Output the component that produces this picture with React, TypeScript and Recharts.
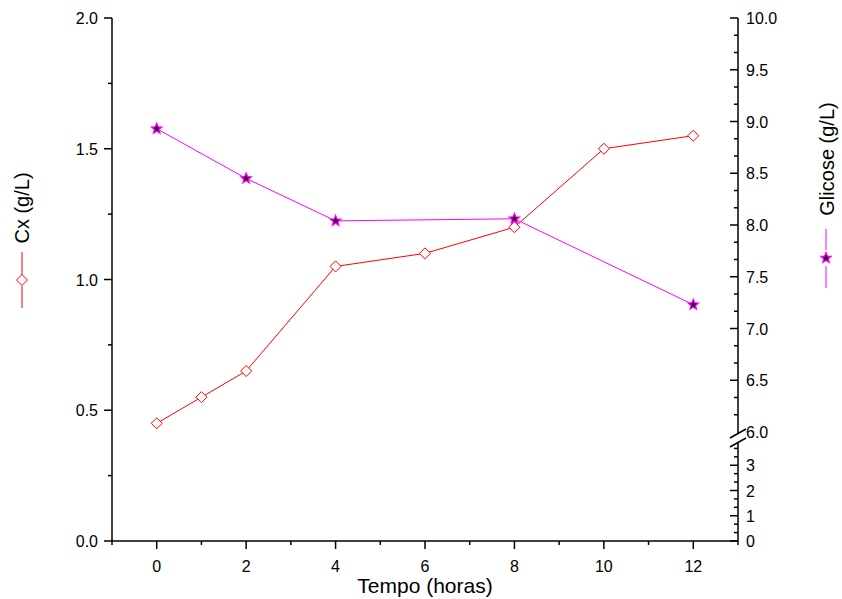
import React from 'react';
import { LineChart, Line, XAxis, YAxis } from 'recharts';

document.body.style.margin = '0';

// Cx (g/L) vs tempo
const cxTempo = [0, 1, 2, 4, 6, 8, 10, 12];
const cxValues = [0.45, 0.55, 0.65, 1.05, 1.1, 1.2, 1.5, 1.55];

// Glicose (g/L) vs tempo
const glicoseTempo = [0, 2, 4, 8, 12];
const glicoseValues = [8.93, 8.45, 8.04, 8.06, 7.23];

const xTicks = [-1, 0, 1, 2, 3, 4, 5, 6, 7, 8, 9, 10, 11, 12, 13];
const xLabels = [0, 2, 4, 6, 8, 10, 12];
const cxTicks = [0, 0.25, 0.5, 0.75, 1, 1.25, 1.5, 1.75, 2];
const glicoseLowTicks = [0, 1, 2, 3];
const glicoseHighTicks = [6, 6.5, 7, 7.5, 8, 8.5, 9, 9.5, 10];

// broken right axis: 0..4 on a compressed scale, 6..10 above the break
const LOW_STEP = 25.25;
const HIGH_BASE = 109;
const HIGH_STEP = 103.5;
const toAxis = (g: number) => (g <= 4 ? g * LOW_STEP : HIGH_BASE + (g - 6) * HIGH_STEP);

const cxData = cxTempo.map((t, i) => ({ t, cx: cxValues[i] }));
const glicoseData = glicoseTempo.map((t, i) => ({ t, g: toAxis(glicoseValues[i]) }));

const rightTicks: number[] = [];
for (let i = 0; i <= 11; i++) rightTicks.push(toAxis(i / 3));
for (let i = 0; i <= 24; i++) rightTicks.push(toAxis(6 + i / 6));

const FONT = '"Liberation Sans", Arial, sans-serif';
const near = (a: number, b: number) => Math.abs(a - b) < 1e-6;

const XTick = (props: any) => {
  const { x, y, payload } = props;
  const v = payload.value;
  const major = v % 2 === 0;
  return (
    <g>
      <line x1={x} x2={x} y1={y} y2={y + (major ? 8 : 4)} stroke="#000" strokeWidth={1.5} />
      {xLabels.includes(v) && (
        <text x={x} y={y + 31} textAnchor="middle" fontSize={16} fontFamily={FONT} fill="#000">
          {v}
        </text>
      )}
    </g>
  );
};

const LeftTick = (props: any) => {
  const { x, y, payload } = props;
  const v = payload.value;
  const major = near((v * 2) % 1, 0);
  return (
    <g>
      <line x1={x} x2={x - (major ? 8 : 4)} y1={y} y2={y} stroke="#000" strokeWidth={1.5} />
      {major && (
        <text x={x - 14} y={y + 6} textAnchor="end" fontSize={16} fontFamily={FONT} fill="#000">
          {v.toFixed(1)}
        </text>
      )}
    </g>
  );
};

const RightTick = (props: any) => {
  const { x, y, payload } = props;
  const a = payload.value;
  let label: string | null = null;
  let major = false;
  let isBreak = false;
  if (a < HIGH_BASE - 1) {
    const g = a / LOW_STEP;
    if (Math.abs(g - Math.round(g)) < 1e-4) {
      major = true;
      if (glicoseLowTicks.includes(Math.round(g))) label = String(Math.round(g));
    }
  } else {
    const g = 6 + (a - HIGH_BASE) / HIGH_STEP;
    const r2 = Math.round(g * 2) / 2;
    if (Math.abs(g - r2) < 1e-4 && glicoseHighTicks.includes(r2)) {
      major = true;
      label = r2.toFixed(1);
    }
    if (Math.abs(g - 6) < 1e-4) isBreak = true;
  }
  return (
    <g>
      {!isBreak && (
        <line x1={x} x2={x - (major ? 8 : 4)} y1={y} y2={y} stroke="#000" strokeWidth={1.5} />
      )}
      {isBreak && (
        <g>
          <polygon points={`${x - 8},${y + 6} ${x + 8},${y - 3} ${x + 8},${y + 6} ${x - 8},${y + 15}`} fill="#fff" />
          <line x1={x - 8} y1={y + 6} x2={x + 8} y2={y - 3} stroke="#000" strokeWidth={1.5} />
          <line x1={x - 8} y1={y + 15} x2={x + 8} y2={y + 6} stroke="#000" strokeWidth={1.5} />
        </g>
      )}
      {label && (
        <text x={x + 8} y={y + 6} textAnchor="start" fontSize={16} fontFamily={FONT} fill="#000">
          {label}
        </text>
      )}
    </g>
  );
};

const Diamond = (props: any) => {
  const { cx, cy } = props;
  if (cx == null || cy == null) return null;
  const s = 5.5;
  return (
    <polygon
      points={`${cx},${cy - s} ${cx + s},${cy} ${cx},${cy + s} ${cx - s},${cy}`}
      fill="#fff"
      stroke="#ff0000"
      strokeWidth={1}
    />
  );
};

const starPoints = (cx: number, cy: number, ro: number, ri: number) => {
  const pts: string[] = [];
  for (let i = 0; i < 10; i++) {
    const r = i % 2 === 0 ? ro : ri;
    const a = -Math.PI / 2 + (i * Math.PI) / 5;
    pts.push(`${cx + r * Math.cos(a)},${cy + r * Math.sin(a)}`);
  }
  return pts.join(' ');
};

const Star = (props: any) => {
  const { cx, cy } = props;
  if (cx == null || cy == null) return null;
  return <polygon points={starPoints(cx, cy, 5.5, 2.4)} fill="#330033" stroke="#ff00ff" strokeWidth={1.2} />;
};

const LeftLegend = () => (
  <g>
    <text
      transform="translate(29,208) rotate(-90)"
      textAnchor="middle"
      fontSize={20}
      fontFamily={FONT}
      fill="#000"
    >
      Cx (g/L)
    </text>
    <line x1={22} x2={22} y1={252} y2={275} stroke="#ff0000" />
    <Diamond cx={22} cy={280} />
    <line x1={22} x2={22} y1={286} y2={308} stroke="#ff0000" />
  </g>
);

const RightLegend = () => (
  <g>
    <text
      transform="translate(834,159) rotate(-90)"
      textAnchor="middle"
      fontSize={20}
      fontFamily={FONT}
      fill="#000"
    >
      Glicose (g/L)
    </text>
    <line x1={826} x2={826} y1={229} y2={250} stroke="#ff00ff" />
    <Star cx={826} cy={258} />
    <line x1={826} x2={826} y1={266} y2={288} stroke="#ff00ff" />
  </g>
);

export default function App() {
  return (
    <div style={{ width: 842, height: 599, background: '#fff' }}>
      <LineChart width={842} height={599} margin={{ top: 18, right: 0, bottom: 0, left: 0 }}>
        <XAxis
          dataKey="t"
          type="number"
          domain={[-1, 13]}
          ticks={xTicks}
          interval={0}
          height={58}
          tickSize={0}
          tickMargin={0}
          tick={<XTick />}
          stroke="#000"
          strokeWidth={1.5}
          allowDuplicatedCategory={false}
          label={{
            value: 'Tempo (horas)',
            position: 'insideBottom',
            offset: 6,
            fontSize: 21,
            fontFamily: FONT,
            fill: '#000',
          }}
        />
        <YAxis
          yAxisId="cx"
          orientation="left"
          domain={[0, 2]}
          ticks={cxTicks}
          interval={0}
          width={112}
          tickSize={0}
          tickMargin={0}
          tick={<LeftTick />}
          stroke="#000"
          strokeWidth={1.5}
          label={<LeftLegend />}
        />
        <YAxis
          yAxisId="g"
          orientation="right"
          domain={[0, HIGH_BASE + 4 * HIGH_STEP]}
          ticks={rightTicks}
          interval={0}
          width={104}
          tickSize={0}
          tickMargin={0}
          tick={<RightTick />}
          stroke="#000"
          strokeWidth={1.5}
          label={<RightLegend />}
        />
        <Line
          yAxisId="cx"
          data={cxData}
          dataKey="cx"
          stroke="#ff0000"
          strokeWidth={1}
          dot={<Diamond />}
          activeDot={false}
          isAnimationActive={false}
        />
        <Line
          yAxisId="g"
          data={glicoseData}
          dataKey="g"
          stroke="#ff00ff"
          strokeWidth={1}
          dot={<Star />}
          activeDot={false}
          isAnimationActive={false}
        />
      </LineChart>
    </div>
  );
}
